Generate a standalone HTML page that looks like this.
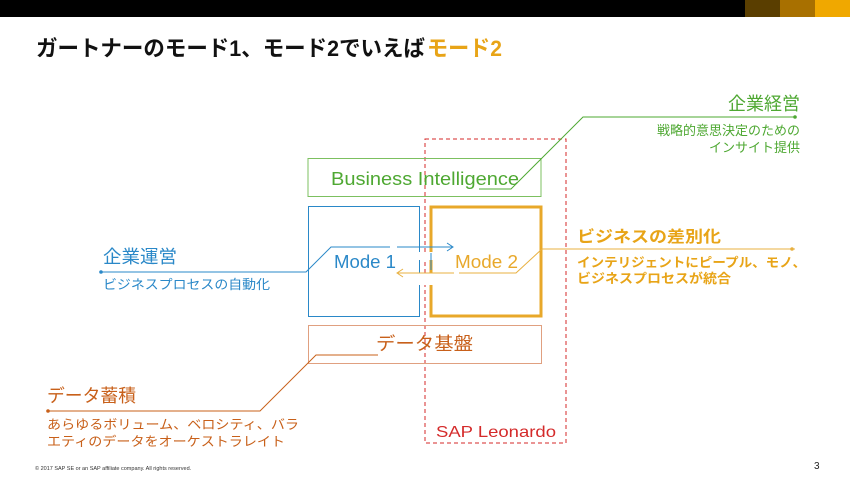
<!DOCTYPE html>
<html><head><meta charset="utf-8"><style>
html,body{margin:0;padding:0;background:#fff;}
svg{display:block;font-family:"Liberation Sans","Noto Sans CJK JP",sans-serif;}
</style></head><body>
<svg width="850" height="478" viewBox="0 0 850 478" xmlns="http://www.w3.org/2000/svg">
<rect x="0" y="0" width="850" height="17" fill="#000"/>
<rect x="745" y="0" width="35" height="17" fill="#5a3e00"/>
<rect x="780" y="0" width="35" height="17" fill="#a87000"/>
<rect x="815" y="0" width="35" height="17" fill="#f0a800"/>

<text x="36" y="56" font-size="22" font-weight="bold" fill="#111" textLength="389" lengthAdjust="spacingAndGlyphs">ガートナーのモード1、モード2でいえば</text>
<text x="427" y="56" font-size="22" font-weight="bold" fill="#e8a417" textLength="75" lengthAdjust="spacingAndGlyphs">モード2</text>

<rect x="425" y="139" width="141" height="304" fill="none" stroke="#d42a2a" stroke-width="1" stroke-dasharray="4,3"/>
<text x="436" y="437" font-size="16" fill="#d42a2a" textLength="120" lengthAdjust="spacingAndGlyphs">SAP Leonardo</text>

<rect x="308" y="158.5" width="233" height="38" fill="none" stroke="#7cc060" stroke-width="1"/>
<text x="331" y="185" font-size="18" fill="#4ea832" textLength="188" lengthAdjust="spacingAndGlyphs">Business Intelligence</text>

<rect x="308.5" y="206.5" width="111" height="110" fill="none" stroke="#2a88c8" stroke-width="1"/>
<rect x="431" y="207" width="110" height="109" fill="none" stroke="#e8a82a" stroke-width="3"/>
<rect x="400" y="252" width="55" height="8" fill="#fff"/>
<rect x="415" y="273" width="20" height="12" fill="#fff"/>
<line x1="431" y1="253" x2="431" y2="270" stroke="#2a88c8" stroke-width="1"/>
<text x="334" y="268" font-size="18" fill="#2a88c8" textLength="62" lengthAdjust="spacingAndGlyphs">Mode 1</text>
<text x="455" y="268" font-size="18" fill="#e8a82a" textLength="63" lengthAdjust="spacingAndGlyphs">Mode 2</text>

<rect x="308.5" y="325.5" width="233" height="38" fill="none" stroke="#e0a080" stroke-width="1"/>
<text x="376" y="350" font-size="18" fill="#c8601a" textLength="97" lengthAdjust="spacingAndGlyphs">データ基盤</text>

<polyline points="795,117 583,117 511,189 479,189" fill="none" stroke="#4ea832" stroke-width="1"/>
<circle cx="795" cy="117" r="1.8" fill="#4ea832"/>
<text x="800" y="110" font-size="18" fill="#4ea832" text-anchor="end">企業経営</text>
<text x="800" y="135" font-size="13" fill="#4ea832" text-anchor="end">戦略的意思決定のための</text>
<text x="800" y="152" font-size="13" fill="#4ea832" text-anchor="end">インサイト提供</text>

<polyline points="101,272 306,272 331,247 390,247" fill="none" stroke="#2a88c8" stroke-width="1"/>
<line x1="397" y1="247" x2="452" y2="247" stroke="#2a88c8" stroke-width="1"/>
<polyline points="447,243 453,247 447,251" fill="none" stroke="#2a88c8" stroke-width="1"/>
<circle cx="101" cy="272" r="1.8" fill="#2a88c8"/>
<text x="103" y="263" font-size="18" fill="#2a88c8" textLength="74" lengthAdjust="spacingAndGlyphs">企業運営</text>
<text x="103" y="289" font-size="13" fill="#2a88c8" textLength="167" lengthAdjust="spacingAndGlyphs">ビジネスプロセスの自動化</text>

<polyline points="795,249 542,249 516,273 459,273" fill="none" stroke="#e8b040" stroke-width="1"/>
<line x1="454" y1="273" x2="398" y2="273" stroke="#e8b040" stroke-width="1"/>
<polyline points="403,269 397,273 403,277" fill="none" stroke="#e8b040" stroke-width="1"/>
<circle cx="792" cy="249" r="1.8" fill="#e8b040"/>
<text x="577" y="242" font-size="16" font-weight="bold" fill="#e8a417" textLength="144" lengthAdjust="spacingAndGlyphs">ビジネスの差別化</text>
<text x="577" y="267" font-size="13" font-weight="bold" fill="#e8a417" textLength="229" lengthAdjust="spacingAndGlyphs">インテリジェントにピープル、モノ、</text>
<text x="577" y="283" font-size="13" font-weight="bold" fill="#e8a417" textLength="154" lengthAdjust="spacingAndGlyphs">ビジネスプロセスが統合</text>

<polyline points="48,411 260,411 316,355 378,355" fill="none" stroke="#c8601a" stroke-width="1"/>
<circle cx="48" cy="411" r="1.8" fill="#c8601a"/>
<text x="47" y="402" font-size="18" fill="#c8601a" textLength="89" lengthAdjust="spacingAndGlyphs">データ蓄積</text>
<text x="47" y="429" font-size="13" fill="#c8601a" textLength="252" lengthAdjust="spacingAndGlyphs">あらゆるボリューム、ベロシティ、バラ</text>
<text x="47" y="446" font-size="13" fill="#c8601a" textLength="238" lengthAdjust="spacingAndGlyphs">エティのデータをオーケストラレイト</text>

<text x="35" y="470" font-size="5.5" fill="#333">© 2017 SAP SE or an SAP affiliate company. All rights reserved.</text>
<text x="814" y="469" font-size="10" fill="#222">3</text>
</svg>
</body></html>
